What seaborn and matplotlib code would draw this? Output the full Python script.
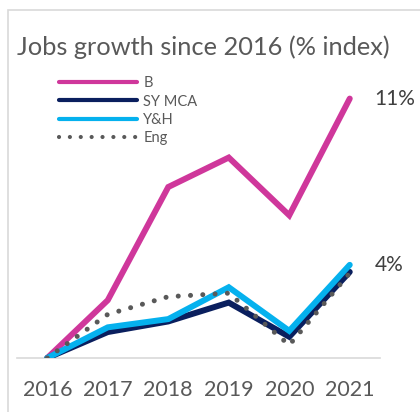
import pandas as pd
import matplotlib.pyplot as plt
import matplotlib.patches as mpatches
import seaborn as sns

years = ["2016", "2017", "2018", "2019", "2020", "2021"]
b_vals = [0.0, 2.45, 7.25, 8.5, 6.05, 11.0]
sy_mca_vals = [0.0, 1.1, 1.55, 2.35, 0.9, 3.65]
yh_vals = [0.0, 1.3, 1.65, 3.0, 1.15, 3.95]
eng_vals = [0.0, 1.85, 2.6, 2.75, 0.55, 3.6]
series_names = ["B", "SY MCA", "Y&H", "Eng"]
end_labels = {"B": "11%", "Y&H": "4%"}

colors = {"B": "#CF379B", "SY MCA": "#0A1F5E", "Y&H": "#05B1EE", "Eng": "#595959"}
text_grey = "#595959"

df = pd.DataFrame(
    {"year": years, "B": b_vals, "SY MCA": sy_mca_vals, "Y&H": yh_vals, "Eng": eng_vals}
)
df["x"] = range(len(years))
long_df = df.melt(id_vars=["year", "x"], var_name="Region", value_name="Growth")

sns.set_style("white")
plt.rcParams["font.family"] = ["Lato", "DejaVu Sans"]

fig = plt.figure(figsize=(4.2, 4.12), dpi=100)
ax = fig.add_axes([17 / 420, 54 / 412, 363 / 420, 283 / 412])

sns.lineplot(
    data=long_df,
    x="x",
    y="Growth",
    hue="Region",
    hue_order=series_names,
    palette=colors,
    linewidth=4.3,
    legend=False,
    ax=ax,
)
for line, name in zip(ax.get_lines(), series_names):
    line.set_solid_joinstyle("miter")
    line.set_zorder({"B": 2, "SY MCA": 3, "Y&H": 4, "Eng": 5}[name])
    if name == "Eng":
        line.set_linewidth(3.6)
        line.set_dashes((0.01, 2.45))
        line.set_dash_capstyle("round")

for name, label in end_labels.items():
    ax.annotate(
        label,
        (df["x"].iloc[-1], df[name].iloc[-1]),
        xytext=(25, 0),
        textcoords="offset pixels",
        ha="left",
        va="center",
        fontsize=15,
        color="#404040",
    )

ax.set_xlim(-0.5, 5.5)
ax.set_ylim(0, 12)
ax.set_xticks(df["x"])
ax.set_xticklabels(years)
ax.tick_params(axis="x", length=0, pad=16, labelsize=15.5, labelcolor=text_grey)
ax.set_yticks([])
ax.set_xlabel("")
ax.set_ylabel("")
for side in ["top", "right", "left"]:
    ax.spines[side].set_visible(False)
ax.spines["bottom"].set_color("#D9D9D9")
ax.spines["bottom"].set_linewidth(1.2)
ax.patch.set_alpha(0)

handles = []
for name in series_names:
    if name == "Eng":
        h = plt.Line2D([], [], color=colors[name], lw=3.0, dashes=(0.01, 2.6),
                       dash_capstyle="round")
    else:
        h = plt.Line2D([], [], color=colors[name], lw=3.0, solid_capstyle="round")
    handles.append(h)
fig.legend(
    handles,
    series_names,
    loc="upper left",
    bbox_to_anchor=(52 / 420, 1 - 69 / 412),
    frameon=False,
    fontsize=10.5,
    labelcolor=text_grey,
    handlelength=5.3,
    handletextpad=0.45,
    labelspacing=0.29,
    borderpad=0,
)

fig.text(17 / 420, 1 - 47 / 412, "Jobs growth since 2016 (% index)",
         fontsize=18.3, color=text_grey, ha="left", va="center")

fig.patches.append(
    mpatches.Rectangle((8 / 420, -0.1), 1.2, 1.1 - 10 / 412, transform=fig.transFigure,
                       fill=False, edgecolor="#D9D9D9", lw=1.2)
)

fig.savefig("out.png", dpi=100)
plt.close(fig)
